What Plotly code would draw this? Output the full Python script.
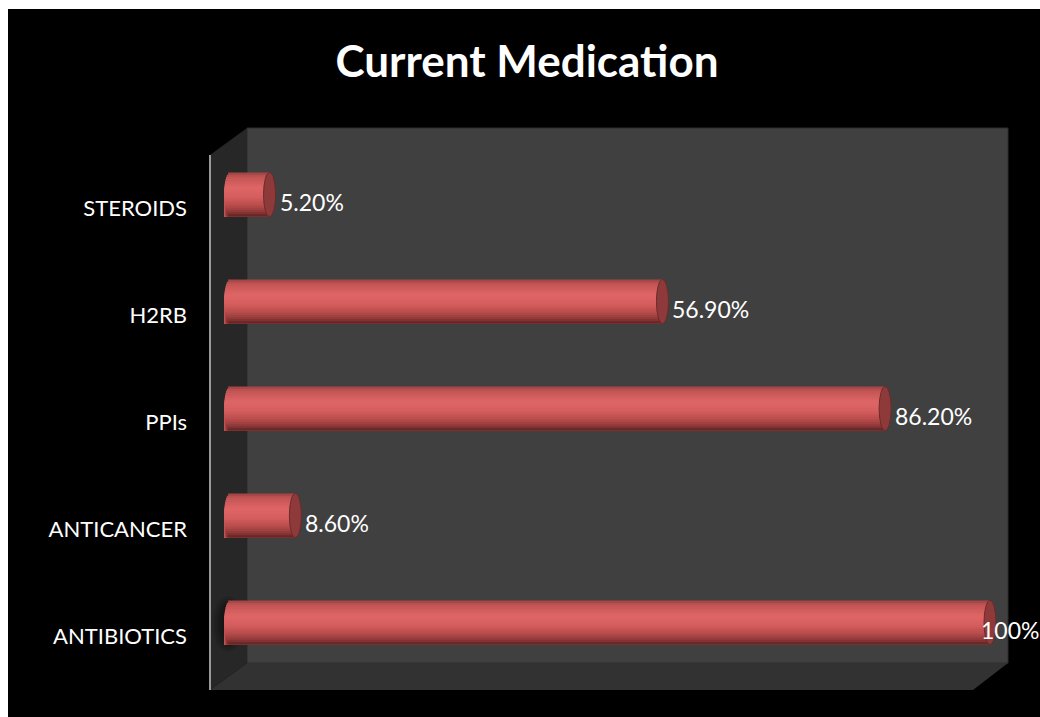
import math
import plotly.graph_objects as go

# ---- data ----
categories = ["STEROIDS", "H2RB", "PPIs", "ANTICANCER", "ANTIBIOTICS"]
values = [5.2, 56.9, 86.2, 8.6, 100]
title_text = "Current Medication"


def fmt_pct(v):
    return f"{v:.0f}%" if float(v).is_integer() else f"{v:.2f}%"


# ---- canvas / plot geometry (pixels) ----
W, H = 1040, 717
PPU = 7.6                 # pixels per percentage point
X_LO, X_HI = -5, 105      # a little room for the rounded bar ends
M_L, M_R, M_T, M_B = 192, 12, 141, 41
PLOT_W = W - M_L - M_R
PLOT_H = H - M_T - M_B

R = 0.206                 # cylinder half-thickness in category units
CAP_PX = 6                # half-width of the elliptical end caps
CAP = CAP_PX / PPU


def px(x):
    return (x - M_L) / PLOT_W


def py(y):
    return (H - M_B - y) / PLOT_H


def hexrgb(h):
    h = h.lstrip("#")
    return tuple(int(h[i:i + 2], 16) for i in (0, 2, 4))


# shading of the cylinder from its top edge (0) to its bottom edge (1)
SHADE = [(0.0, "#9c4242"), (0.10, "#c25454"), (0.35, "#e06666"),
         (0.55, "#d65e5e"), (0.75, "#b84c4c"), (0.90, "#8c3636"),
         (1.0, "#5c2222")]


def shade(t):
    for (t0, c0), (t1, c1) in zip(SHADE, SHADE[1:]):
        if t <= t1:
            f = (t - t0) / (t1 - t0)
            a, b = hexrgb(c0), hexrgb(c1)
            return "rgb({},{},{})".format(*[round(a[i] + (b[i] - a[i]) * f) for i in range(3)])
    return SHADE[-1][1]


fig = go.Figure()

# cylinder bodies: horizontal strips, each with its own tone; every strip
# overlaps the next one so no seams show between them
N = 20
dh = 2 * R / N
for k in range(N):
    t = (k + 0.5) / N
    s = 2 * t - 1
    base = -CAP * math.sqrt(max(0.0, 1 - s * s))
    fig.add_trace(go.Bar(
        orientation="h",
        y=categories,
        x=[v - base for v in values],
        base=[base] * len(values),
        width=(2 * R - k * dh),
        offset=-R + k * dh,
        marker=dict(color=shade(t), line=dict(width=0)),
        hoverinfo="skip",
        showlegend=False,
    ))

shapes = []
# white frame on top/left, black chart area
shapes.append(dict(type="rect", xref="paper", yref="paper", layer="below",
                   x0=px(8), x1=px(W), y0=py(9), y1=py(H),
                   fillcolor="#000000", line=dict(width=0)))
# back wall
shapes.append(dict(type="rect", xref="paper", yref="paper", layer="below",
                   x0=px(247), x1=px(1008), y0=py(128), y1=py(663),
                   fillcolor="#404040", line=dict(color="#2c2c2c", width=1)))
# side wall
shapes.append(dict(type="path", xref="paper", yref="paper", layer="below",
                   path="M {} {} L {} {} L {} {} L {} {} Z".format(
                       px(210), py(155), px(247), py(128),
                       px(247), py(663), px(210), py(690)),
                   fillcolor="#272727", line=dict(width=0)))
# floor
shapes.append(dict(type="path", xref="paper", yref="paper", layer="below",
                   path="M {} {} L {} {} L {} {} L {} {} Z".format(
                       px(210), py(690), px(247), py(663),
                       px(1008), py(663), px(973), py(690)),
                   fillcolor="#323232", line=dict(width=0)))
# soft shadow on the side wall
for j in range(5):
    g = j * 2.5
    shapes.append(dict(type="circle", xref="paper", yref="paper", layer="below",
                       x0=px(212 + g), x1=px(244 - g), y0=py(596 + g), y1=py(652 - g),
                       fillcolor="rgba(0,0,0,0.10)", line=dict(width=0)))
# vertical axis line at the front edge
shapes.append(dict(type="line", xref="paper", yref="paper", layer="below",
                   x0=px(210), x1=px(210), y0=py(155), y1=py(690),
                   line=dict(color="#9a9a9a", width=2)))

# flat end caps at the value end of each cylinder
for i, v in enumerate(values):
    shapes.append(dict(type="circle", xref="x", yref="y", layer="above",
                       x0=v - CAP, x1=v + CAP, y0=i - R, y1=i + R,
                       fillcolor="#8e3a3a", line=dict(color="#6c2a2a", width=1)))

annotations = []
for c, v in zip(categories, values):
    shift = CAP_PX + 2 if v < 95 else -CAP_PX - 5
    annotations.append(dict(x=v, y=c, xref="x", yref="y", text=fmt_pct(v),
                            showarrow=False, xanchor="left", yanchor="middle",
                            xshift=shift, yshift=-7,
                            font=dict(family="Lato", size=23, color="#ffffff")))

fig.update_layout(
    width=W, height=H,
    margin=dict(l=M_L, r=M_R, t=M_T, b=M_B, pad=0),
    paper_bgcolor="#ffffff",
    plot_bgcolor="rgba(0,0,0,0)",
    barmode="overlay",
    title=dict(text=title_text, x=527 / W, xref="container", xanchor="center",
               y=1 - 62 / H, yref="container", yanchor="middle",
               font=dict(family="Lato", size=44, color="#ffffff", weight="bold")),
    xaxis=dict(range=[X_LO, X_HI], visible=False, fixedrange=True),
    yaxis=dict(type="category", categoryorder="array", categoryarray=categories,
               range=[len(categories) - 0.5, -0.5],
               showgrid=False, zeroline=False, showline=False, ticks="",
               ticklabelstandoff=4, ticklabelshift=-14,
               tickfont=dict(family="Lato", size=22, color="#ffffff")),
    shapes=shapes,
    annotations=annotations,
    showlegend=False,
)

fig.write_html("out.html")
